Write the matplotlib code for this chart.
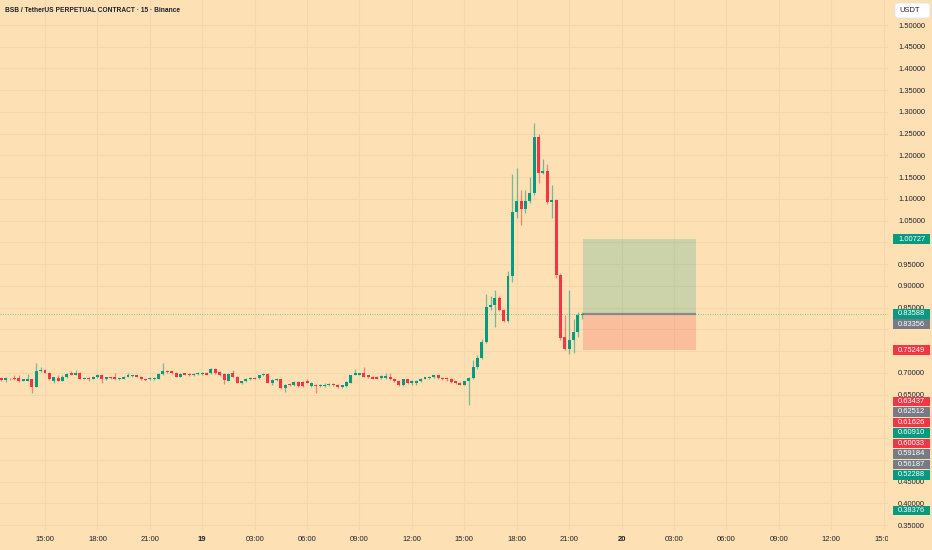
import numpy as np
import matplotlib.pyplot as plt
from matplotlib.patches import Rectangle, FancyBboxPatch

# 15-minute candles, first one at 18th 12:30 (hours counted from 18th 00:00)
t0 = 12.5
step = 0.25

opens = [0.6881, 0.6835, 0.6865, 0.6881, 0.6881, 0.6819, 0.6819, 0.6850, 0.6674, 0.7034,
         0.7065, 0.7003, 0.6819, 0.6881, 0.6819, 0.6896, 0.6988, 0.6957, 0.7003, 0.6865,
         0.6881, 0.6865, 0.6896, 0.6957, 0.6850, 0.6896, 0.6896, 0.6850, 0.6865, 0.6911,
         0.6927, 0.6942, 0.6911, 0.6850, 0.6850, 0.6850, 0.6865, 0.6973, 0.7049, 0.7034,
         0.7003, 0.6911, 0.6988, 0.6973, 0.6942, 0.6973, 0.6973, 0.7003, 0.6988, 0.7095,
         0.7019, 0.6973, 0.6819, 0.7003, 0.6911, 0.6758, 0.6804, 0.6850, 0.6881, 0.6881,
         0.6942, 0.6973, 0.6773, 0.6835, 0.6850, 0.6651, 0.6743, 0.6712, 0.6789, 0.6789,
         0.6804, 0.6697, 0.6727, 0.6697, 0.6697, 0.6712, 0.6743, 0.6727, 0.6666, 0.6697,
         0.6773, 0.6957, 0.6957, 0.6988, 0.6942, 0.6911, 0.6911, 0.6881, 0.6881, 0.6896,
         0.6865, 0.6819, 0.6712, 0.6850, 0.6758, 0.6758, 0.6804, 0.6865, 0.6881, 0.6896,
         0.6942, 0.6881, 0.6881, 0.6865, 0.6804, 0.6773, 0.6727, 0.6804, 0.6881, 0.7125,
         0.7333, 0.7716, 0.8506, 0.8555, 0.8711, 0.8443, 0.8190, 0.9225, 1.0690, 1.0959,
         1.0767, 1.0959, 1.1128, 1.2431, 1.1603, 1.1649, 1.0936, 1.0974, 0.9249, 0.7814,
         0.7553, 0.7752, 0.7945, 0.8336]
highs = [0.6911, 0.6896, 0.6881, 0.6942, 0.6942, 0.6865, 0.6973, 0.6865, 0.7234, 0.7142,
         0.7080, 0.7019, 0.6911, 0.6942, 0.6942, 0.6988, 0.7034, 0.7065, 0.7019, 0.6896,
         0.6896, 0.6927, 0.6973, 0.6973, 0.6911, 0.6911, 0.7003, 0.6896, 0.6927, 0.6988,
         0.6957, 0.6957, 0.6927, 0.6865, 0.6896, 0.6896, 0.6988, 0.7218, 0.7065, 0.7049,
         0.7019, 0.6988, 0.7003, 0.6988, 0.6988, 0.7019, 0.7019, 0.7019, 0.7111, 0.7111,
         0.7034, 0.6988, 0.6988, 0.7065, 0.6927, 0.6819, 0.6881, 0.6896, 0.6896, 0.6957,
         0.6988, 0.6988, 0.6850, 0.6881, 0.6865, 0.6743, 0.6758, 0.6804, 0.6804, 0.6804,
         0.6850, 0.6789, 0.6743, 0.6743, 0.6758, 0.6758, 0.6758, 0.6743, 0.6727, 0.6804,
         0.6957, 0.7080, 0.7003, 0.7126, 0.6957, 0.6927, 0.6927, 0.6942, 0.6988, 0.6988,
         0.6881, 0.6835, 0.6865, 0.6865, 0.6835, 0.6835, 0.6881, 0.6911, 0.6927, 0.6957,
         0.6957, 0.6896, 0.6896, 0.6881, 0.6819, 0.6789, 0.6819, 0.6896, 0.7294, 0.7410,
         0.7790, 0.8813, 0.8770, 0.8903, 0.8757, 0.8460, 0.9340, 1.1572, 1.1703, 1.1204,
         1.1204, 1.1511, 1.2738, 1.2493, 1.1910, 1.1803, 1.1320, 1.0990, 0.9300, 0.8328,
         0.8903, 0.8228, 0.8405, 0.8405]
lows = [0.6819, 0.6789, 0.6835, 0.6835, 0.6789, 0.6804, 0.6804, 0.6543, 0.6666, 0.7019,
        0.6988, 0.6835, 0.6773, 0.6804, 0.6804, 0.6881, 0.6942, 0.6942, 0.6850, 0.6850,
        0.6819, 0.6850, 0.6881, 0.6773, 0.6835, 0.6865, 0.6835, 0.6835, 0.6850, 0.6896,
        0.6911, 0.6896, 0.6835, 0.6819, 0.6835, 0.6835, 0.6850, 0.6957, 0.7003, 0.6973,
        0.6896, 0.6896, 0.6942, 0.6927, 0.6927, 0.6957, 0.6957, 0.6942, 0.6973, 0.6973,
        0.6927, 0.6743, 0.6804, 0.6896, 0.6758, 0.6743, 0.6789, 0.6835, 0.6850, 0.6865,
        0.6927, 0.6758, 0.6712, 0.6819, 0.6635, 0.6559, 0.6697, 0.6697, 0.6681, 0.6681,
        0.6758, 0.6681, 0.6543, 0.6681, 0.6681, 0.6697, 0.6697, 0.6651, 0.6651, 0.6681,
        0.6758, 0.6942, 0.6942, 0.6896, 0.6881, 0.6850, 0.6850, 0.6865, 0.6865, 0.6835,
        0.6789, 0.6697, 0.6697, 0.6743, 0.6727, 0.6727, 0.6789, 0.6850, 0.6865, 0.6881,
        0.6865, 0.6835, 0.6819, 0.6773, 0.6743, 0.6712, 0.6712, 0.6260, 0.6850, 0.7100,
        0.7310, 0.7690, 0.8450, 0.8060, 0.8420, 0.8175, 0.8175, 0.9095, 1.0552, 1.0399,
        1.0670, 1.0900, 1.1100, 1.1373, 1.1580, 1.0882, 1.0552, 0.9172, 0.7753, 0.7515,
        0.7445, 0.7461, 0.7830, 0.8245]
closes = [0.6835, 0.6881, 0.6850, 0.6850, 0.6804, 0.6850, 0.6865, 0.6674, 0.7049, 0.7065,
          0.7003, 0.6850, 0.6896, 0.6819, 0.6911, 0.6973, 0.6957, 0.7003, 0.6865, 0.6881,
          0.6850, 0.6911, 0.6957, 0.6850, 0.6896, 0.6881, 0.6850, 0.6881, 0.6911, 0.6942,
          0.6942, 0.6911, 0.6850, 0.6835, 0.6881, 0.6881, 0.6973, 0.7049, 0.7019, 0.6988,
          0.6911, 0.6973, 0.6957, 0.6942, 0.6973, 0.7003, 0.7003, 0.6957, 0.7095, 0.6988,
          0.6942, 0.6835, 0.6973, 0.6911, 0.6773, 0.6804, 0.6865, 0.6881, 0.6865, 0.6942,
          0.6973, 0.6773, 0.6835, 0.6865, 0.6651, 0.6727, 0.6712, 0.6789, 0.6697, 0.6697,
          0.6773, 0.6773, 0.6697, 0.6727, 0.6727, 0.6743, 0.6712, 0.6666, 0.6712, 0.6789,
          0.6942, 0.6988, 0.6988, 0.6911, 0.6896, 0.6865, 0.6865, 0.6927, 0.6927, 0.6850,
          0.6804, 0.6712, 0.6850, 0.6758, 0.6819, 0.6819, 0.6865, 0.6896, 0.6911, 0.6942,
          0.6881, 0.6850, 0.6850, 0.6789, 0.6758, 0.6727, 0.6804, 0.6881, 0.7125, 0.7333,
          0.7716, 0.8506, 0.8560, 0.8711, 0.8443, 0.8190, 0.9225, 1.0690, 1.0959, 1.0767,
          1.0959, 1.1128, 1.2431, 1.1603, 1.1649, 1.0936, 1.0974, 0.9249, 0.7791, 0.7553,
          0.7752, 0.7945, 0.8336, 0.8359]

# long position tool
pos_start, pos_end = 45.8, 52.25
take_profit = 1.00727
entry = 0.83588
stop_loss = 0.75249
last_price = 0.83588

# price scale labels (value, kind)
label_values = [1.00727, 0.83588, 0.83356, 0.75249, 0.63437, 0.62512, 0.61626,
                0.60910, 0.60033, 0.59184, 0.56187, 0.52288, 0.38376]
label_kinds = ['up', 'up', 'grey', 'down', 'down', 'grey', 'down',
               'up', 'down', 'grey', 'grey', 'up', 'up']

price_ticks = [0.35, 0.40, 0.45, 0.50, 0.55, 0.60, 0.65, 0.70, 0.75, 0.80, 0.85, 0.90,
               0.95, 1.00, 1.05, 1.10, 1.15, 1.20, 1.25, 1.30, 1.35, 1.40, 1.45, 1.50]
time_ticks = [15, 18, 21, 24, 27, 30, 33, 36, 39, 42, 45, 48, 51, 54, 57, 60, 63]
time_labels = ['15:00', '18:00', '21:00', '19', '03:00', '06:00', '09:00', '12:00',
               '15:00', '18:00', '21:00', '20', '03:00', '06:00', '09:00', '12:00', '15:00']

BG = '#fde1b4'
GRID = '#f4d8ab'
UP = '#089981'
DOWN = '#f23645'
GREY = '#787b86'
TXT = '#1e222d'
plt.rcParams['font.family'] = ['Liberation Sans', 'DejaVu Sans']

W, H = 932, 550
fig = plt.figure(figsize=(W / 100, H / 100), dpi=100, facecolor=BG)
ax = fig.add_axes([0, 20 / H, 888 / W, 530 / H], facecolor=BG)
ax.set_xlim(12.424, 63.25)
ax.set_ylim(0.3386, 1.5575)

o = np.array(opens)
c = np.array(closes)
hi = np.array(highs)
lo = np.array(lows)
t = t0 + step * np.arange(len(o))
col = np.where(c >= o, UP, DOWN)

ax.vlines(t, lo, hi, colors=col, linewidth=0.9, alpha=0.55, zorder=3)
body = np.maximum(np.abs(c - o), 0.0018)
ax.bar(t, body, bottom=np.minimum(o, c), width=0.17, color=col, linewidth=0, zorder=4)

# position box
ax.add_patch(Rectangle((pos_start, entry), pos_end - pos_start, take_profit - entry,
                       facecolor=UP, alpha=0.2, linewidth=0, zorder=2))
ax.add_patch(Rectangle((pos_start, stop_loss), pos_end - pos_start, entry - stop_loss,
                       facecolor=DOWN, alpha=0.2, linewidth=0, zorder=2))
ax.hlines(entry, pos_start, pos_end, colors=GREY, linewidth=1.6, alpha=0.8, zorder=2.5)

# last price line
ax.axhline(last_price, color=UP, linestyle=(0, (1, 1.5)), linewidth=0.7, alpha=0.5, zorder=2)

# stacked positions of the price labels (pixels), so they do not overlap
box_h = 10.5
label_pix = []
prev = None
for v in label_values:
    yp = ax.transData.transform((0, v))[1]
    if prev is not None and yp > prev - box_h:
        yp = prev - box_h
    prev = yp
    label_pix.append(yp)

# price scale: tick labels hidden where a label box sits on top of them
tick_text = []
for v in price_ticks:
    yp = ax.transData.transform((0, v))[1]
    hidden = any(abs(yp - lp) < 6 for lp in label_pix)
    tick_text.append('' if hidden else f'{v:.5f}')
ax.set_yticks(price_ticks)
ax.set_yticklabels(tick_text)
ax.set_xticks(time_ticks)
ax.set_xticklabels(time_labels)
ax.grid(True, color=GRID, linewidth=0.8, zorder=0)
ax.set_axisbelow(True)
ax.yaxis.tick_right()
ax.tick_params(axis='y', length=0, pad=7.2, labelsize=5.4, labelcolor=TXT)
ax.tick_params(axis='x', length=0, pad=4.5, labelsize=5.5, labelcolor=TXT)
for lab in ax.get_xticklabels():
    if lab.get_text() in ('19', '20'):
        lab.set_fontweight('bold')
for s in ax.spines.values():
    s.set_visible(False)

# cover the corner under the price scale
fig.patches.append(Rectangle((888 / W, 0), 44 / W, 20 / H, transform=fig.transFigure,
                             facecolor=BG, edgecolor='none', zorder=5))

# title
fig.text(5 / W, 1 - 10 / H, 'BSB / TetherUS PERPETUAL CONTRACT · 15 · Binance',
         fontsize=4.8, fontweight='bold', color=TXT, va='center', ha='left')

# USDT box
fig.patches.append(FancyBboxPatch((895 / W, 1 - 18 / H), 35 / W, 15 / H,
                                  boxstyle='round,pad=0,rounding_size=0.004',
                                  transform=fig.transFigure, facecolor='white',
                                  edgecolor='#e0e3eb', linewidth=0.6, zorder=6))
fig.text(899 / W, 1 - 10.5 / H, 'USDT', fontsize=5.4, color=TXT, va='center',
         ha='left', zorder=7)

# price labels
kind_colors = {'up': UP, 'down': DOWN, 'grey': GREY}
for v, k, yp in zip(label_values, label_kinds, label_pix):
    fig.patches.append(Rectangle((893 / W, (yp - box_h / 2 + 0.4) / H), 37 / W,
                                 (box_h - 0.8) / H, transform=fig.transFigure,
                                 facecolor=kind_colors[k], edgecolor='none', zorder=8))
    fig.text(898 / W, yp / H, f'{v:.5f}', fontsize=5.4, color='white',
             va='center', ha='left', zorder=9)

fig.savefig('out.png', dpi=100, facecolor=BG)
